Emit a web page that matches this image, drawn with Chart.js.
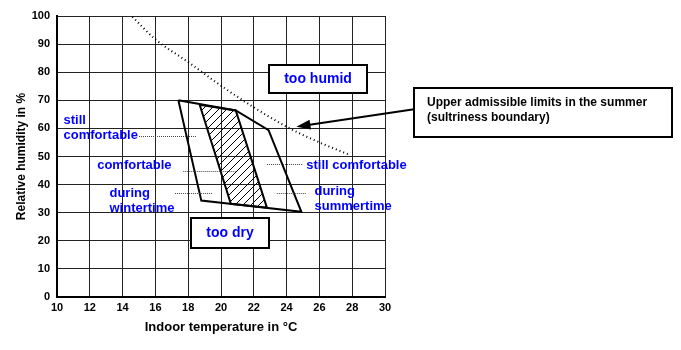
<!DOCTYPE html>
<html>
<head>
<meta charset="utf-8">
<script src="https://cdn.jsdelivr.net/npm/chart.js@4.4.1/dist/chart.umd.min.js"></script>
<style>
  html, body { margin: 0; padding: 0; background: #fff; }
</style>
</head>
<body>
<canvas id="chart" width="681" height="350"></canvas>
<script>
// comfort zone (outer polygon), temperature °C / relative humidity %
const outerTemp = [17.4, 20.9, 22.9, 24.9, 18.8, 17.4];
const outerHum = [70, 66.4, 59.4, 30.3, 34.3, 70];
// hatched "comfortable" zone
const innerTemp = [18.7, 20.9, 22.8, 20.6, 18.7];
const innerHum = [68.4, 66.4, 31.8, 33.2, 68.4];
// sultriness boundary (dotted)
const limitTemp = [14.6, 16, 18, 20, 22, 24, 26, 27.8];
const limitHum = [99.7, 91.7, 83.6, 75.2, 67.5, 60.6, 55, 50.7];

const xTicks = [10, 12, 14, 16, 18, 20, 22, 24, 26, 28, 30];
const yTicks = [0, 10, 20, 30, 40, 50, 60, 70, 80, 90, 100];

// text labels placed in data coordinates
const labels = [
  { text: 'still', x: 10.4, y: 63.0 },
  { text: 'comfortable', x: 10.4, y: 57.5 },
  { text: 'comfortable', x: 12.45, y: 46.8 },
  { text: 'during', x: 13.2, y: 36.9 },
  { text: 'wintertime', x: 13.2, y: 31.6 },
  { text: 'still comfortable', x: 25.2, y: 46.8 },
  { text: 'during', x: 25.7, y: 37.6 },
  { text: 'summertime', x: 25.7, y: 32.3 }
];
const leaders = [
  [15.0, 18.5, 57.2],
  [17.7, 20.9, 45.0],
  [17.2, 19.5, 37.1],
  [22.8, 25.0, 47.4],
  [23.4, 25.2, 37.1]
];

const pts = (xs, ys) => xs.map((x, i) => ({ x: x, y: ys[i] }));

function hatch() {
  const c = document.createElement('canvas');
  c.width = 8; c.height = 8;
  const g = c.getContext('2d');
  g.strokeStyle = '#000';
  g.lineWidth = 1;
  g.beginPath();
  g.moveTo(0, 8); g.lineTo(8, 0);
  g.moveTo(-2, 2); g.lineTo(2, -2);
  g.moveTo(6, 10); g.lineTo(10, 6);
  g.stroke();
  return g.createPattern(c, 'repeat');
}

const extras = {
  id: 'extras',
  afterDatasetsDraw(chart) {
    const ctx = chart.ctx;
    const sx = chart.scales.x, sy = chart.scales.y;
    const px = v => sx.getPixelForValue(v);
    const py = v => sy.getPixelForValue(v);
    ctx.save();

    // leader lines
    ctx.strokeStyle = '#444';
    ctx.lineWidth = 1;
    ctx.setLineDash([1, 1]);
    leaders.forEach(l => {
      ctx.beginPath();
      ctx.moveTo(px(l[0]), Math.round(py(l[2])) + 0.5);
      ctx.lineTo(px(l[1]), Math.round(py(l[2])) + 0.5);
      ctx.stroke();
    });
    ctx.setLineDash([]);

    // boxes
    const box = (x1, x2, y1, y2) => {
      const l = Math.round(px(x1)), r = Math.round(px(x2));
      const t = Math.round(py(y1)), b = Math.round(py(y2));
      ctx.fillStyle = '#fff';
      ctx.fillRect(l, t, r - l, b - t);
      ctx.strokeStyle = '#000';
      ctx.lineWidth = 2;
      ctx.strokeRect(l, t, r - l, b - t);
      return { l, r, t, b };
    };
    const hum = box(22.93, 28.9, 82.4, 72.6);
    const dry = box(18.17, 22.9, 28.2, 17.3);
    const note = box(31.76, 47.5, 74.4, 57.0);

    ctx.textBaseline = 'middle';
    ctx.textAlign = 'center';
    ctx.fillStyle = '#0000ff';
    ctx.font = 'bold 14px "Liberation Sans", Arial, sans-serif';
    ctx.fillText('too humid', (hum.l + hum.r) / 2, (hum.t + hum.b) / 2);
    ctx.fillText('too dry', (dry.l + dry.r) / 2, (dry.t + dry.b) / 2);

    ctx.textAlign = 'left';
    ctx.font = 'bold 13px "Liberation Sans", Arial, sans-serif';
    labels.forEach(t => ctx.fillText(t.text, px(t.x), py(t.y)));

    ctx.fillStyle = '#000';
    ctx.font = 'bold 12px "Liberation Sans", Arial, sans-serif';
    ctx.fillText('Upper admissible limits in the summer', note.l + 13, note.t + 15);
    ctx.fillText('(sultriness boundary)', note.l + 13, note.t + 30);

    // arrow to the boundary
    const ax = px(24.6), ay = py(60.6);
    const bx = note.l, by = py(66.8);
    const ang = Math.atan2(ay - by, ax - bx);
    ctx.strokeStyle = '#000';
    ctx.lineWidth = 2;
    ctx.beginPath();
    ctx.moveTo(bx, by);
    ctx.lineTo(ax - 10 * Math.cos(ang), ay - 10 * Math.sin(ang));
    ctx.stroke();
    ctx.beginPath();
    ctx.moveTo(ax, ay);
    ctx.lineTo(ax - 14 * Math.cos(ang) + 5 * Math.sin(ang), ay - 14 * Math.sin(ang) - 5 * Math.cos(ang));
    ctx.lineTo(ax - 14 * Math.cos(ang) - 5 * Math.sin(ang), ay - 14 * Math.sin(ang) + 5 * Math.cos(ang));
    ctx.closePath();
    ctx.fillStyle = '#000';
    ctx.fill();

    ctx.restore();
  }
};

new Chart(document.getElementById('chart'), {
  type: 'scatter',
  data: {
    datasets: [
      {
        data: pts(innerTemp, innerHum),
        showLine: true,
        fill: 'shape',
        backgroundColor: hatch(),
        borderColor: '#000',
        borderWidth: 2,
        pointRadius: 0,
        tension: 0
      },
      {
        data: pts(outerTemp, outerHum),
        showLine: true,
        fill: false,
        borderColor: '#000',
        borderWidth: 2,
        pointRadius: 0,
        tension: 0
      },
      {
        data: pts(limitTemp, limitHum),
        showLine: true,
        fill: false,
        borderColor: '#000',
        borderWidth: 2,
        borderDash: [1, 3],
        pointRadius: 0,
        cubicInterpolationMode: 'monotone'
      }
    ]
  },
  options: {
    responsive: false,
    animation: false,
    events: [],
    layout: { padding: { left: 0, right: 296, top: 16, bottom: 0 } },
    plugins: { legend: { display: false }, tooltip: { enabled: false } },
    scales: {
      x: {
        type: 'linear',
        min: 10,
        max: 30,
        afterFit: s => { s.height = 53; },
        afterBuildTicks: s => { s.ticks = xTicks.map(v => ({ value: v })); },
        grid: { color: '#222', lineWidth: 1, drawTicks: false },
        border: { color: '#000', width: 2 },
        ticks: { color: '#000', padding: 4, font: { family: '"Liberation Sans", Arial', size: 11, weight: 'bold' } },
        title: {
          display: true,
          text: 'Indoor temperature in °C',
          color: '#000',
          padding: { top: 0, bottom: 15 },
          font: { family: '"Liberation Sans", Arial', size: 13, weight: 'bold' }
        }
      },
      y: {
        type: 'linear',
        min: 0,
        max: 100,
        afterFit: s => { s.width = 57; },
        afterBuildTicks: s => { s.ticks = yTicks.map(v => ({ value: v })); },
        grid: { color: '#222', lineWidth: 1, drawTicks: false },
        border: { color: '#000', width: 2 },
        ticks: { color: '#000', padding: 7, font: { family: '"Liberation Sans", Arial', size: 11, weight: 'bold' } },
        title: {
          display: true,
          text: 'Relative humidity in %',
          color: '#000',
          padding: { top: 14, bottom: 0 },
          font: { family: '"Liberation Sans", Arial', size: 12, weight: 'bold' }
        }
      }
    }
  },
  plugins: [extras]
});
</script>
</body>
</html>
